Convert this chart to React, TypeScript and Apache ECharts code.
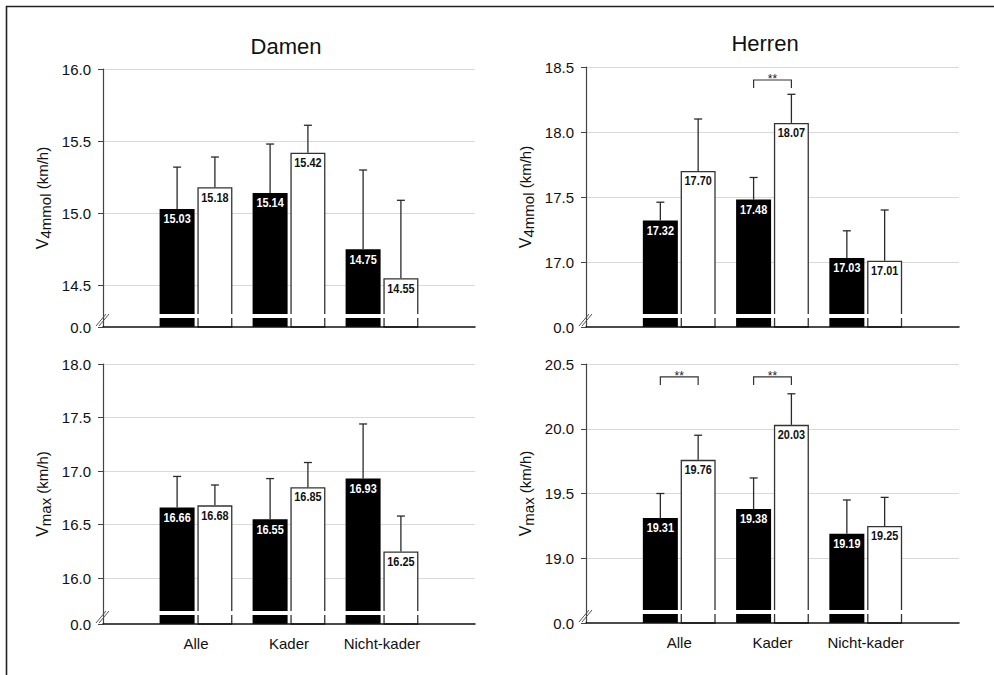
import React, { useEffect, useRef } from 'react';
import * as echarts from 'echarts';

// ---------- data ----------
const categories = ['Alle', 'Kader', 'Nicht-kader'];

// Damen, V4mmol (km/h)
const damenV4Black = [15.03, 15.14, 14.75];
const damenV4BlackSD = [0.29, 0.34, 0.55];
const damenV4White = [15.18, 15.42, 14.55];
const damenV4WhiteSD = [0.21, 0.19, 0.54];
const damenV4Ticks = [14.5, 15.0, 15.5, 16.0];

// Herren, V4mmol (km/h)
const herrenV4Black = [17.32, 17.48, 17.03];
const herrenV4BlackSD = [0.14, 0.17, 0.21];
const herrenV4White = [17.70, 18.07, 17.01];
const herrenV4WhiteSD = [0.40, 0.22, 0.39];
const herrenV4Ticks = [17.0, 17.5, 18.0, 18.5];
const herrenV4Sig = [{ category: 'Kader', level: 18.4 }];

// Damen, Vmax (km/h)
const damenVmaxBlack = [16.66, 16.55, 16.93];
const damenVmaxBlackSD = [0.29, 0.38, 0.51];
const damenVmaxWhite = [16.68, 16.85, 16.25];
const damenVmaxWhiteSD = [0.19, 0.23, 0.33];
const damenVmaxTicks = [16.0, 16.5, 17.0, 17.5, 18.0];

// Herren, Vmax (km/h)
const herrenVmaxBlack = [19.31, 19.38, 19.19];
const herrenVmaxBlackSD = [0.19, 0.24, 0.26];
const herrenVmaxWhite = [19.76, 20.03, 19.25];
const herrenVmaxWhiteSD = [0.19, 0.24, 0.22];
const herrenVmaxTicks = [19.0, 19.5, 20.0, 20.5];
const herrenVmaxSig = [
  { category: 'Alle', level: 20.4 },
  { category: 'Kader', level: 20.4 },
];

// value shown as "0.0" at the broken axis bottom
const damenV4Floor = 14.212;
const herrenV4Floor = 16.5;
const damenVmaxFloor = 15.572;
const herrenVmaxFloor = 18.5;

const titles = ['Damen', 'Herren'];

// ---------- styling ----------
const FONT = '"Liberation Sans", Arial, sans-serif';
const BAR_W = 35;
const BAR_GAP_PCT = '8%';
const BAR_OFFSET = (BAR_W + BAR_W * 0.08) / 2;

const axisCats = ['', ...categories, ''];
const pad = (arr: number[]) => ['-', ...arr, '-'];

interface Panel {
  grid: { left: number; top: number; width: number; height: number };
  black: number[];
  blackSD: number[];
  white: number[];
  whiteSD: number[];
  ticks: number[];
  floor: number;
  sub: string;
  showX: boolean;
  sig: { category: string; level: number }[];
}

const panels: Panel[] = [
  {
    grid: { left: 103, top: 69, width: 372, height: 258 },
    black: damenV4Black, blackSD: damenV4BlackSD, white: damenV4White, whiteSD: damenV4WhiteSD,
    ticks: damenV4Ticks, floor: damenV4Floor, sub: '4mmol', showX: false, sig: [],
  },
  {
    grid: { left: 586, top: 67, width: 373, height: 260 },
    black: herrenV4Black, blackSD: herrenV4BlackSD, white: herrenV4White, whiteSD: herrenV4WhiteSD,
    ticks: herrenV4Ticks, floor: herrenV4Floor, sub: '4mmol', showX: false, sig: herrenV4Sig,
  },
  {
    grid: { left: 103, top: 364, width: 372, height: 260 },
    black: damenVmaxBlack, blackSD: damenVmaxBlackSD, white: damenVmaxWhite, whiteSD: damenVmaxWhiteSD,
    ticks: damenVmaxTicks, floor: damenVmaxFloor, sub: 'max', showX: true, sig: [],
  },
  {
    grid: { left: 586, top: 364, width: 373, height: 259 },
    black: herrenVmaxBlack, blackSD: herrenVmaxBlackSD, white: herrenVmaxWhite, whiteSD: herrenVmaxWhiteSD,
    ticks: herrenVmaxTicks, floor: herrenVmaxFloor, sub: 'max', showX: true, sig: herrenVmaxSig,
  },
];

function errRender(params: any, api: any) {
  const cat = api.value(0);
  const v = api.value(1);
  const hi = api.value(2);
  const side = api.value(3);
  const p0 = api.coord([cat, v]);
  const p1 = api.coord([cat, hi]);
  const cx = p0[0] + side * BAR_OFFSET;
  const st = { stroke: '#2a2a2a', lineWidth: 1.3 };
  return {
    type: 'group',
    children: [
      { type: 'line', shape: { x1: cx, y1: p0[1], x2: cx, y2: p1[1] }, style: st },
      { type: 'line', shape: { x1: cx - 4, y1: p1[1], x2: cx + 4, y2: p1[1] }, style: st },
    ],
  };
}

function valueLabelRender(params: any, api: any) {
  const cat = api.value(0);
  const v = api.value(1);
  const side = api.value(2);
  const p = api.coord([cat, v]);
  const cx = p[0] + side * BAR_OFFSET;
  return {
    type: 'text',
    x: cx,
    y: p[1] + 10,
    scaleX: 0.84,
    style: {
      text: Number(v).toFixed(2),
      x: 0,
      y: 0,
      align: 'center',
      verticalAlign: 'middle',
      fontSize: 13,
      fontWeight: 'bold',
      fontFamily: FONT,
      fill: side < 0 ? '#ffffff' : '#111111',
    },
  };
}

function stripeRender(params: any, api: any) {
  const p = api.coord([api.value(0), api.value(1)]);
  return {
    type: 'rect',
    shape: { x: p[0] - BAR_OFFSET - BAR_W / 2 - 2, y: p[1] - 13, width: 2 * BAR_OFFSET + BAR_W + 4, height: 4 },
    style: { fill: '#ffffff' },
  };
}

function breakMarkRender(params: any) {
  const cs = params.coordSys;
  const x = cs.x;
  const y = cs.y + cs.height;
  const st = { stroke: '#555', lineWidth: 1 };
  return {
    type: 'group',
    children: [
      { type: 'line', shape: { x1: x - 7, y1: y - 1, x2: x + 3, y2: y - 13 }, style: st },
      { type: 'line', shape: { x1: x - 4, y1: y - 1, x2: x + 6, y2: y - 13 }, style: st },
    ],
  };
}

function sigRender(params: any, api: any) {
  const p = api.coord([api.value(0), api.value(1)]);
  const l = p[0] - BAR_OFFSET;
  const r = p[0] + BAR_OFFSET;
  const y = p[1];
  return {
    type: 'group',
    children: [
      {
        type: 'polyline',
        shape: { points: [[l, y + 8], [l, y], [r, y], [r, y + 8]] },
        style: { stroke: '#333', lineWidth: 1.2, fill: null },
      },
      {
        type: 'text',
        style: {
          text: '**', x: p[0], y: y - 1, align: 'center', verticalAlign: 'middle',
          fontSize: 12, fontFamily: FONT, fill: '#222',
        },
      },
    ],
  };
}

export default function App() {
  const ref = useRef<HTMLDivElement>(null);

  useEffect(() => {
    if (!ref.current) return;
    const chart = echarts.init(ref.current, null, { renderer: 'svg' });

    const grid: any[] = [];
    const xAxis: any[] = [];
    const yAxis: any[] = [];
    const series: any[] = [];

    panels.forEach((pn, i) => {
      grid.push({ ...pn.grid, containLabel: false });
      xAxis.push({
        type: 'category',
        gridIndex: i,
        data: axisCats,
        boundaryGap: false,
        axisLine: { show: true, lineStyle: { color: '#111', width: 1.5 } },
        axisTick: { show: false },
        axisLabel: {
          show: pn.showX, interval: 0, margin: 12, fontSize: 15, color: '#111', fontFamily: FONT,
        },
        splitLine: { show: false },
        z: 5,
      });
      const maxV = pn.ticks[pn.ticks.length - 1];
      const labelVals = [pn.floor, ...pn.ticks];
      yAxis.push({
        type: 'value',
        gridIndex: i,
        min: pn.floor,
        max: maxV,
        name: `{v|V}{s|${pn.sub}}{u| (km/h)}`,
        nameLocation: 'middle',
        nameGap: 50,
        nameRotate: 90,
        nameTextStyle: {
          rich: {
            v: { fontSize: 16, fontFamily: FONT, color: '#111' },
            s: { fontSize: 15, fontFamily: FONT, color: '#111', padding: [7, 0, 0, 0] },
            u: { fontSize: 15, fontFamily: FONT, color: '#111' },
          },
        },
        axisLine: { show: true, lineStyle: { color: '#444', width: 1.2 } },
        axisTick: { show: true, inside: false, length: 5, customValues: labelVals, lineStyle: { color: '#444' } },
        axisLabel: {
          customValues: labelVals,
          margin: 12,
          fontSize: 15,
          color: '#111',
          fontFamily: FONT,
          formatter: (v: number) => (v < pn.ticks[0] - 1e-6 ? '0.0' : v.toFixed(1)),
        },
        splitLine: { show: false },
        z: 5,
      });

      // gridlines
      series.push({
        type: 'line',
        xAxisIndex: i,
        yAxisIndex: i,
        data: axisCats.map(() => '-'),
        z: 0,
        silent: true,
        markLine: {
          z: 0,
          silent: true,
          symbol: 'none',
          label: { show: false },
          lineStyle: { color: '#d9d9d9', width: 1, type: 'solid' },
          data: pn.ticks.map((t) => ({ yAxis: t })),
        },
      });

      series.push({
        type: 'bar',
        xAxisIndex: i,
        yAxisIndex: i,
        data: pad(pn.black),
        barWidth: BAR_W,
        barGap: BAR_GAP_PCT,
        itemStyle: { color: '#000', borderColor: '#000', borderWidth: 0 },
        z: 2,
      });
      series.push({
        type: 'bar',
        xAxisIndex: i,
        yAxisIndex: i,
        data: pad(pn.white),
        barWidth: BAR_W,
        barGap: BAR_GAP_PCT,
        itemStyle: { color: '#fff', borderColor: '#333', borderWidth: 1.3 },
        z: 2,
      });

      const errData: number[][] = [];
      const lblData: number[][] = [];
      categories.forEach((c, k) => {
        errData.push([k + 1, pn.black[k], pn.black[k] + pn.blackSD[k], -1]);
        errData.push([k + 1, pn.white[k], pn.white[k] + pn.whiteSD[k], 1]);
        lblData.push([k + 1, pn.black[k], -1]);
        lblData.push([k + 1, pn.white[k], 1]);
      });
      series.push({
        type: 'custom',
        xAxisIndex: i,
        yAxisIndex: i,
        renderItem: errRender,
        data: errData,
        encode: { x: 0, y: [1, 2] },
        z: 3,
        silent: true,
      });
      series.push({
        type: 'custom',
        xAxisIndex: i,
        yAxisIndex: i,
        renderItem: valueLabelRender,
        data: lblData,
        encode: { x: 0, y: 1 },
        z: 4,
        silent: true,
      });

      series.push({
        type: 'custom',
        xAxisIndex: i,
        yAxisIndex: i,
        renderItem: stripeRender,
        data: categories.map((c, k) => [k + 1, pn.floor]),
        encode: { x: 0, y: 1 },
        z: 4,
        silent: true,
      });

      series.push({
        type: 'custom',
        xAxisIndex: i,
        yAxisIndex: i,
        renderItem: breakMarkRender,
        data: [[0, pn.floor]],
        encode: { x: 0, y: 1 },
        z: 6,
        silent: true,
      });

      if (pn.sig.length) {
        series.push({
          type: 'custom',
          xAxisIndex: i,
          yAxisIndex: i,
          renderItem: sigRender,
          data: pn.sig.map((s) => [categories.indexOf(s.category) + 1, s.level]),
          encode: { x: 0, y: 1 },
          z: 4,
          silent: true,
        });
      }
    });

    chart.setOption({
      animation: false,
      backgroundColor: '#fff',
      grid,
      xAxis,
      yAxis,
      series,
      graphic: [
        { type: 'line', shape: { x1: 6, y1: 6.5, x2: 994, y2: 6.5 }, style: { stroke: '#222', lineWidth: 1.6 } },
        { type: 'line', shape: { x1: 6.5, y1: 6, x2: 6.5, y2: 675 }, style: { stroke: '#222', lineWidth: 1.6 } },
        {
          type: 'text', x: 286, y: 46,
          style: { text: titles[0], fontSize: 22, fontFamily: FONT, fill: '#111', align: 'center', verticalAlign: 'middle' },
        },
        {
          type: 'text', x: 765, y: 43,
          style: { text: titles[1], fontSize: 22, fontFamily: FONT, fill: '#111', align: 'center', verticalAlign: 'middle' },
        },
      ],
    });

    return () => chart.dispose();
  }, []);

  return <div ref={ref} style={{ position: 'fixed', left: 0, top: 0, width: 994, height: 675 }} />;
}
